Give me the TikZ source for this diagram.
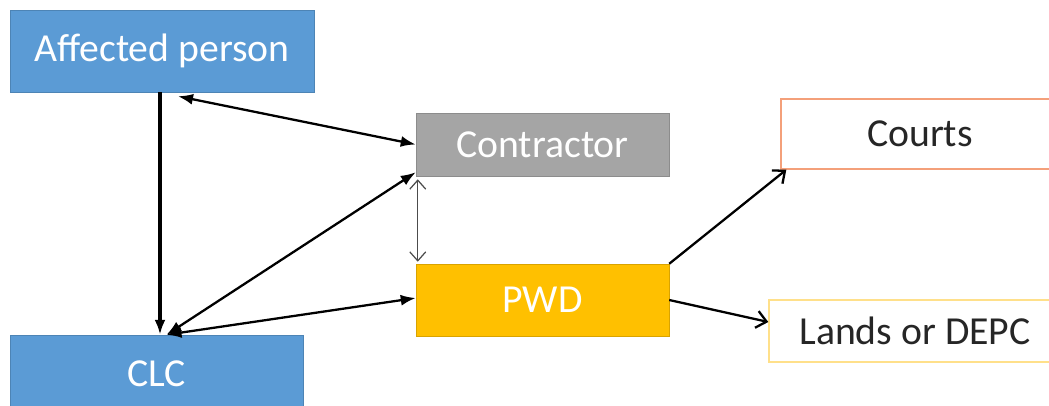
\documentclass[tikz,border=0pt]{standalone}
\usepackage{fontspec}
\setmainfont{Carlito}
\usetikzlibrary{arrows.meta}
\definecolor{boxblue}{HTML}{5B9BD5}
\definecolor{boxgray}{HTML}{A5A5A5}
\definecolor{boxgold}{HTML}{FFC000}
\definecolor{edgeorange}{HTML}{F4A07A}
\definecolor{edgeyellow}{HTML}{FFE08A}
\definecolor{textdark}{HTML}{262626}
\tikzstyle{party}=[rectangle, inner sep=0, font=\fontsize{22.6}{26}\selectfont]
\tikzstyle{filled party}=[party, text=white, draw=#1!85!black, fill=#1, line width=0.3pt]
\tikzstyle{outlined party}=[party, text=textdark, draw=#1, fill=white, line width=0.8pt]
\tikzstyle{link}=[line width=1.3pt, -{Latex[length=0.3cm,width=0.22cm]}]
\tikzstyle{both link}=[link, {Latex[length=0.3cm,width=0.22cm]}-{Latex[length=0.3cm,width=0.22cm]}]
\tikzstyle{thin link}=[line width=0.7pt, draw=black!70, {Straight Barb[length=0.18cm,width=0.32cm]}-{Straight Barb[length=0.18cm,width=0.32cm]}]
\tikzstyle{open link}=[line width=1.3pt, -{Straight Barb[length=0.2cm,width=0.34cm]}]

\begin{document}
\begin{tikzpicture}[x=0.02cm, y=-0.02cm]
    \useasboundingbox (0, 0) rectangle (1049, 406);

    \node[filled party=boxblue, minimum width=6.08cm, minimum height=1.64cm] (affected) at (162, 51) {Affected person};
    \node[filled party=boxblue, minimum width=5.86cm, minimum height=1.56cm] (clc) at (156.5, 374) {CLC};
    \node[filled party=boxgray, minimum width=5.06cm, minimum height=1.26cm] (contractor) at (542.5, 144.5) {Contractor};
    \node[filled party=boxgold, minimum width=5.06cm, minimum height=1.44cm] (pwd) at (542.5, 300) {PWD};
    \node[outlined party=edgeorange, minimum width=5.56cm, minimum height=1.4cm] (courts) at (920, 134) {Courts};
    \node[outlined party=edgeyellow, minimum width=5.84cm, minimum height=1.24cm] (lands) at (915, 331) {Lands or DEPC};

    \coordinate (clc_top) at ([xshift=0.2cm]clc.north);

    \draw[link, line width=1.9pt] ([xshift=-0.04cm]affected.south) to ([xshift=-0.04cm]affected.south |- clc.north);
    \draw[both link] ([xshift=0.32cm, yshift=-0.08cm]affected.south) to (contractor.west);
    \draw[both link] (clc_top) to ([yshift=0.08cm]contractor.south west);
    \draw[both link] (clc_top) to ([yshift=0.04cm]pwd.west);
    \draw[thin link] ([xshift=0.04cm, yshift=-0.06cm]contractor.south west) to ([xshift=0.04cm, yshift=0.04cm]pwd.north west);
    \draw[open link] (pwd.north east) to ([xshift=0.12cm]courts.south west);
    \draw[open link] (pwd.east) to ([yshift=0.18cm]lands.west);
  \end{tikzpicture}
\end{document}
